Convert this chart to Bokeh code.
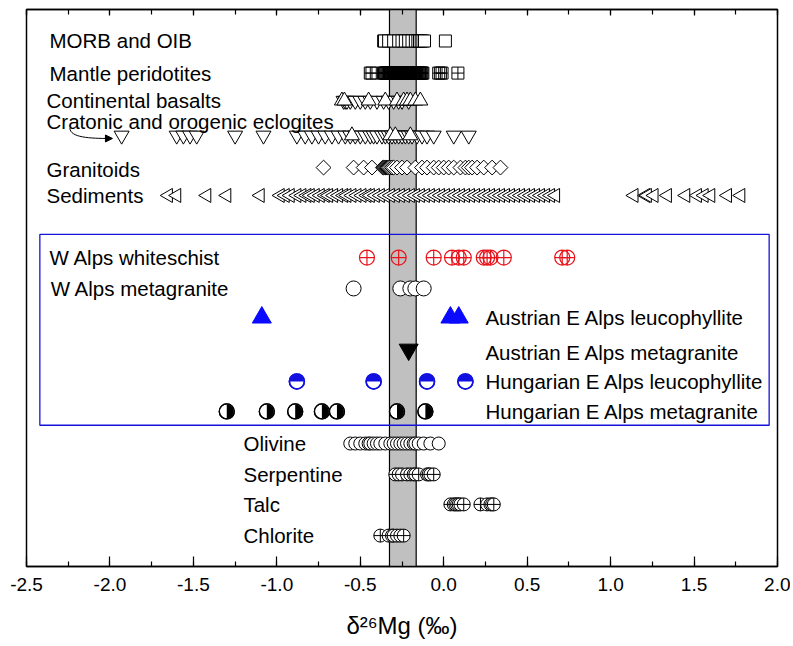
import numpy as np
from bokeh.plotting import figure
from bokeh.models import (Range1d, LinearAxis, SingleIntervalTicker, PrintfTickFormatter,
                          BoxAnnotation, Arrow, NormalHead, ColumnDataSource)
from bokeh.embed import file_html
from bokeh.resources import INLINE
from bokeh.core.properties import value

FONT = "Liberation Sans"

# ---------------- data (delta 26 Mg, permil) ----------------
morb = [-0.36, -0.355, -0.33, -0.30, -0.27, -0.25, -0.23, -0.21, -0.19, -0.17, -0.155,
        -0.145, -0.135, -0.125, -0.115, 0.01]
mantle = [-0.44, -0.43, -0.36, -0.355, -0.35, -0.345, -0.34, -0.335, -0.33, -0.325, -0.32,
          -0.315, -0.31, -0.305, -0.30, -0.295, -0.29, -0.285, -0.28, -0.275, -0.27, -0.265,
          -0.26, -0.255, -0.25, -0.245, -0.24, -0.235, -0.23, -0.225, -0.22, -0.215, -0.21,
          -0.205, -0.20, -0.195, -0.19, -0.185, -0.18, -0.175, -0.17, -0.165, -0.16, -0.155,
          -0.15, -0.145, -0.14, -0.135, -0.13, -0.125, -0.03, -0.02, -0.01, 0.085]
cont_basalt_down = [-0.60, -0.59, -0.58, -0.56, -0.53, -0.50, -0.47, -0.44, -0.40, -0.36,
                    -0.33, -0.30, -0.27, -0.25, -0.21]
cont_basalt_up = [-0.61, -0.595, -0.45, -0.35, -0.28, -0.24, -0.22, -0.20, -0.17, -0.14]
eclogite_down = [-1.93, -1.60, -1.56, -1.52, -1.48, -1.25, -1.08, -0.88, -0.83, -0.79, -0.75,
                 -0.71, -0.67, -0.63, -0.59, -0.56, -0.53, -0.50, -0.47, -0.44, -0.42, -0.40,
                 -0.37, -0.35, -0.33, -0.31, -0.29, -0.27, -0.25, -0.23, -0.21, -0.19, -0.16,
                 -0.13, -0.10, -0.06, 0.06, 0.15]
eclogite_up = [-0.55, -0.32, -0.29, -0.20]
granitoids = [-0.72, -0.54, -0.48, -0.43, -0.365, -0.36, -0.355, -0.35, -0.345, -0.34, -0.335,
              -0.33, -0.32, -0.31, -0.30, -0.28, -0.25, -0.22, -0.17, -0.13, -0.10, -0.06,
              -0.03, 0.00, 0.03, 0.06, 0.10, 0.13, 0.15, 0.17, 0.20, 0.24, 0.29, 0.34]
sediments = [-1.65, -1.60, -1.42, -1.30, -1.10, -0.98, -0.95, -0.92, -0.88, -0.85, -0.82,
             -0.80, -0.77, -0.74, -0.71, -0.69, -0.66, -0.63, -0.60, -0.58, -0.55, -0.52,
             -0.49, -0.46, -0.44, -0.41, -0.38, -0.35, -0.32, -0.29, -0.26, -0.23, -0.20,
             -0.17, -0.14, -0.11, -0.08, -0.05, -0.02, 0.01, 0.04, 0.07, 0.10, 0.13, 0.16,
             0.19, 0.22, 0.25, 0.28, 0.31, 0.34, 0.37, 0.40, 0.43, 0.46, 0.49, 0.52, 0.55,
             0.58, 0.61, 0.64, 0.67, 1.14, 1.21, 1.22, 1.26, 1.34, 1.45, 1.52, 1.56, 1.60,
             1.70, 1.78]
w_alps_whiteschist = [-0.46, -0.27, -0.06, 0.05, 0.09, 0.12, 0.24, 0.26, 0.28, 0.36, 0.71, 0.74]
w_alps_metagranite = [-0.54, -0.26, -0.20, -0.17, -0.12]
aus_leucophyllite = [-1.09, 0.04, 0.09]
aus_metagranite = [-0.21]
hun_leucophyllite = [-0.88, -0.42, -0.10, 0.13]
hun_metagranite = [-1.30, -1.06, -0.89, -0.73, -0.64, -0.28, -0.11]
olivine = [-0.56, -0.53, -0.50, -0.47, -0.45, -0.44, -0.42, -0.40, -0.38, -0.35, -0.32,
           -0.30, -0.28, -0.26, -0.24, -0.22, -0.20, -0.18, -0.17, -0.15, -0.12, -0.08, -0.03]
serpentine = [-0.29, -0.27, -0.25, -0.22, -0.20, -0.18, -0.17, -0.15, -0.10, -0.09, -0.08, -0.06]
talc = [0.04, 0.06, 0.07, 0.08, 0.09, 0.10, 0.12, 0.22, 0.26, 0.28, 0.29, 0.30]
chlorite = [-0.38, -0.33, -0.31, -0.30, -0.28, -0.26, -0.24]

mantle_band = (-0.325, -0.165)

labels = ["MORB and OIB", "Mantle peridotites", "Continental basalts",
          "Cratonic and orogenic eclogites", "Granitoids", "Sediments",
          "W Alps whiteschist", "W Alps metagranite",
          "Austrian E Alps leucophyllite", "Austrian E Alps metagranite",
          "Hungarian E Alps leucophyllite", "Hungarian E Alps metagranite",
          "Olivine", "Serpentine", "Talc", "Chlorite"]

# ---------------- layout (row positions, label anchors) ----------------
ROW = dict(morb=17.52, mantle=16.45, basalt=15.53, eclogite=14.37, granitoid=13.30,
           sediment=12.37, whiteschist=10.30, wmeta=9.27, ausleuco=8.30, ausmeta=7.23,
           hunleuco=6.17, hunmeta=5.17, olivine=4.10, serpentine=3.07, talc=2.07,
           chlorite=1.03)
label_x = [-2.362, -2.362, -2.38, -2.38, -2.38, -2.38, -2.362, -2.355,
           0.25, 0.25, 0.25, 0.25, -1.2, -1.2, -1.2, -1.2]
label_y = [17.52, 16.45, 15.53, 14.83, 13.23, 12.37, 10.30, 9.27,
           8.30, 7.13, 6.17, 5.17, 4.10, 3.07, 2.07, 1.03]

p = figure(width=790, height=646, x_range=Range1d(-2.5, 2.0), y_range=Range1d(0, 18.57),
           output_backend="svg", toolbar_location=None,
           x_axis_location=None, y_axis_location=None,
           min_border_left=26, min_border_right=13, min_border_top=9, min_border_bottom=80)
p.grid.grid_line_color = None
p.outline_line_color = "black"
p.outline_line_width = 1.5
p.background_fill_color = "white"

ticker = SingleIntervalTicker(interval=0.5, num_minor_ticks=2)
bottom = LinearAxis(ticker=ticker, formatter=PrintfTickFormatter(format="%.1f"),
                    axis_label="δ²⁶Mg (‰)",
                    major_tick_in=10, major_tick_out=0, minor_tick_in=5, minor_tick_out=0,
                    major_label_standoff=11, axis_label_standoff=18,
                    major_label_text_font=FONT, major_label_text_font_size="19px",
                    major_label_text_color="black",
                    axis_label_text_font=FONT, axis_label_text_font_size="24px",
                    axis_label_text_font_style="normal", axis_label_text_color="black",
                    axis_line_color="black", axis_line_width=1.5,
                    major_tick_line_color="black", major_tick_line_width=1.2,
                    minor_tick_line_color="black", minor_tick_line_width=1.2)
top = LinearAxis(ticker=ticker, major_label_text_color=None, major_label_standoff=0,
                 major_tick_in=6, major_tick_out=0, minor_tick_in=5, minor_tick_out=0,
                 axis_line_color="black", axis_line_width=1.5,
                 major_tick_line_color="black", major_tick_line_width=1.2,
                 minor_tick_line_color="black", minor_tick_line_width=1.2)
p.add_layout(bottom, "below")
p.add_layout(top, "above")

# grey mantle band
p.add_layout(BoxAnnotation(left=mantle_band[0], right=mantle_band[1], fill_color="#c0c0c0",
                           fill_alpha=1.0, line_color="black", line_alpha=1.0, line_width=1.2,
                           level="underlay"))
# blue frame around the Alps samples
p.add_layout(BoxAnnotation(left=-2.42, right=1.95, bottom=4.71, top=11.07, fill_color=None,
                           line_color="#1414d8", line_alpha=1.0, line_width=1.3))


def row(vals, key):
    return dict(x=vals, y=[ROW[key]] * len(vals))


kw = dict(fill_color="white", line_color="black", line_width=1)
p.scatter(**row(morb, "morb"), marker="square", size=12, **kw)
p.scatter(**row(mantle, "mantle"), marker="square_cross", size=12,
          fill_color=None, line_color="black", line_width=1)
p.scatter(**row(cont_basalt_down, "basalt"), marker="inverted_triangle", size=15, **kw)
p.scatter(**row(cont_basalt_up, "basalt"), marker="triangle", size=15, **kw)
p.scatter(**row(eclogite_down, "eclogite"), marker="inverted_triangle", size=15, **kw)
p.scatter(**row(eclogite_up, "eclogite"), marker="triangle", size=15, **kw)
p.scatter(**row(granitoids, "granitoid"), marker="square", angle=np.pi / 4, size=10.5, **kw)
p.scatter(**row(sediments, "sediment"), marker="triangle", angle=np.pi / 2, size=14, **kw)

p.scatter(**row(w_alps_whiteschist, "whiteschist"), marker="circle_cross", size=15,
          fill_color=None, line_color="#e8141c", line_width=1.2)
p.scatter(**row(w_alps_metagranite, "wmeta"), marker="circle", size=15, **kw)
p.scatter(**row(aus_leucophyllite, "ausleuco"), marker="triangle", size=19,
          fill_color="#0a0aff", line_color="#0a0aff")
p.scatter(**row(aus_metagranite, "ausmeta"), marker="inverted_triangle", size=19,
          fill_color="black", line_color="black")

hl = row(hun_leucophyllite, "hunleuco")
p.scatter(**hl, marker="circle", size=15, fill_color="white", line_color="#1010e0", line_width=1.5)
p.wedge(**hl, radius=7, radius_units="screen", start_angle=0, end_angle=np.pi,
        fill_color="#1010e0", line_color=None)
p.scatter(**hl, marker="circle", size=15, fill_color=None, line_color="#1010e0", line_width=1.5)

hm = row(hun_metagranite, "hunmeta")
p.scatter(**hm, marker="circle", size=15, fill_color="white", line_color="black", line_width=1.3)
p.wedge(**hm, radius=7, radius_units="screen", start_angle=-np.pi / 2, end_angle=np.pi / 2,
        fill_color="black", line_color=None)
p.scatter(**hm, marker="circle", size=15, fill_color=None, line_color="black", line_width=1.3)

p.scatter(**row(olivine, "olivine"), marker="circle", size=13, **kw)
p.scatter(**row(serpentine, "serpentine"), marker="circle_cross", size=13, **kw)
p.scatter(**row(talc, "talc"), marker="circle_cross", size=13, **kw)
p.scatter(**row(chlorite, "chlorite"), marker="circle_cross", size=13, **kw)

# labels
src = ColumnDataSource(dict(x=label_x, y=label_y, t=labels))
p.text(x="x", y="y", text="t", source=src, text_font=value(FONT), text_font_size="20.5px",
       text_baseline="middle", text_align="left", text_color="black")

# curved arrow pointing at the first eclogite
p.bezier(x0=[-2.24], y0=[14.62], x1=[-2.0], y1=[14.27], cx0=[-2.24], cy0=[14.3],
         cx1=[-2.12], cy1=[14.27], line_color="black", line_width=1)
p.add_layout(Arrow(end=NormalHead(size=7, fill_color="black", line_color="black"),
                   x_start=-2.03, y_start=14.27, x_end=-1.985, y_end=14.27,
                   line_color="black", line_width=1))

open("out.html", "w").write(file_html(p, INLINE))
